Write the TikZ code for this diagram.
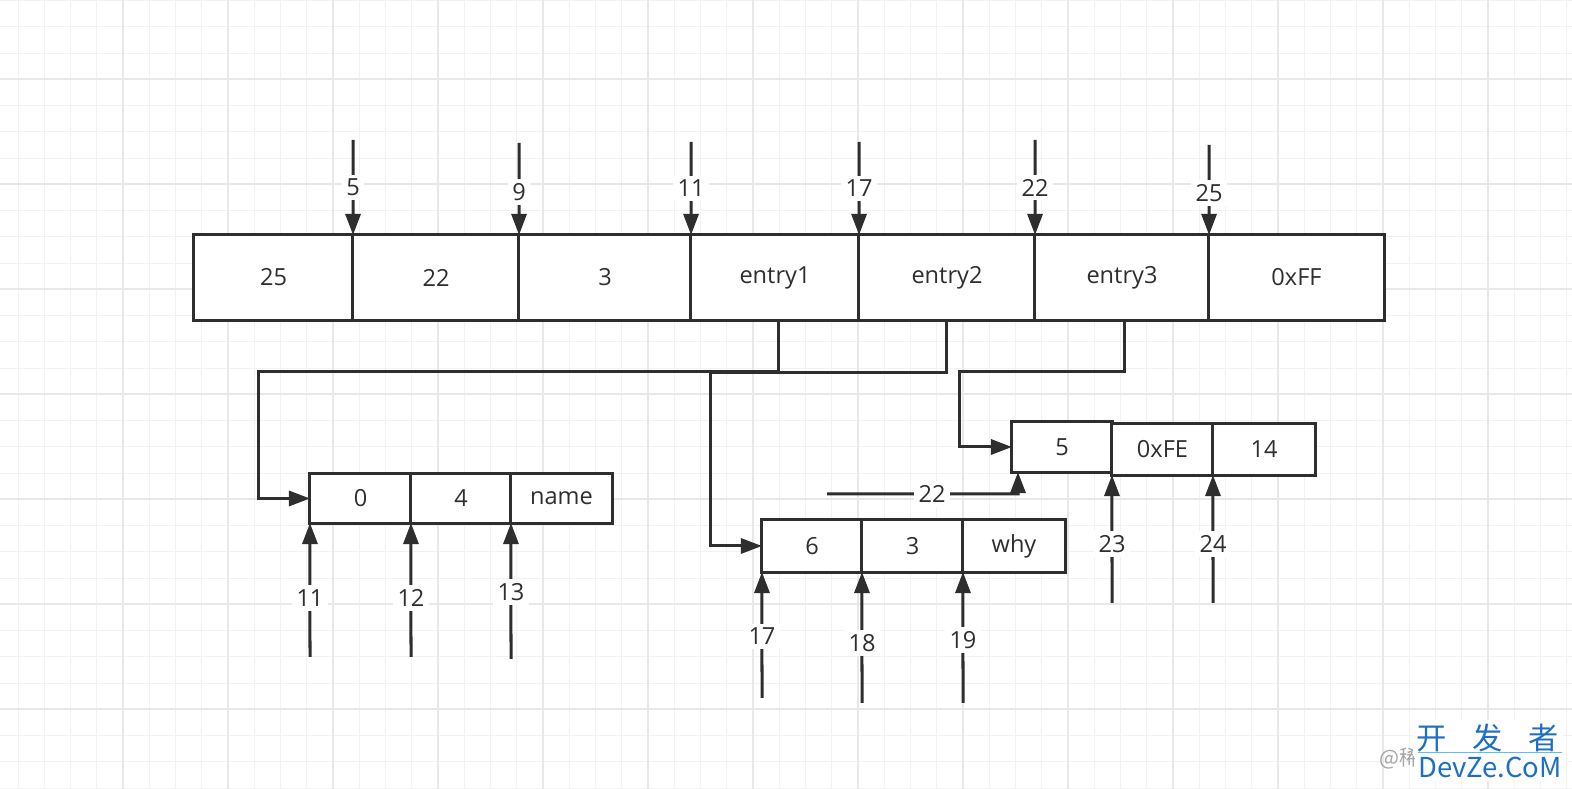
\documentclass[tikz,border=0pt]{standalone}
\usepackage{fontspec}
\setmainfont{Open Sans}
\newfontfamily\cjkfont{Noto Sans CJK SC}
\usetikzlibrary{arrows.meta,calc}
\definecolor{ink}{HTML}{2E2E2E}
\definecolor{gridminor}{HTML}{F2F2F2}
\definecolor{gridmajor}{HTML}{E8E8E8}
\definecolor{wmblue}{HTML}{1E6FC2}
\definecolor{wmline}{HTML}{5BC0EB}
\begin{document}
\begin{tikzpicture}[x=0.01cm,y=-0.01cm,
  cell/.style={draw=ink, fill=white, line width=0.03cm, inner sep=0pt, outer sep=0pt,
    font=\fontsize{6.7}{8}\selectfont, text=ink},
  arr/.style={draw=ink, line width=0.03cm, -{Triangle[length=0.21cm,width=0.15cm]}},
  lbl/.style={fill=white, inner sep=1.2pt, font=\fontsize{6.7}{8}\selectfont, text=ink},
  minorline/.style={draw=gridminor, line width=0.01cm},
  majorline/.style={draw=gridmajor, line width=0.012cm},
]
\useasboundingbox[fill=white] (0,0) rectangle (1572,789);
% background grid
\foreach \i in {0,...,59} {\draw[minorline] ({18+26.25*\i},0) -- ({18+26.25*\i},789);}
\foreach \i in {0,...,30} {\draw[minorline] (0,{0.75+26.25*\i}) -- (1572,{0.75+26.25*\i});}
\foreach \i in {0,...,14} {\draw[majorline] ({123+105*\i},0) -- ({123+105*\i},789);}
\foreach \i in {0,...,7} {\draw[majorline] (0,{79+105*\i}) -- (1572,{79+105*\i});}

% main array
\node[cell, minimum width=1.59cm, minimum height=0.85cm] (a1) at (273.5,277.5) {25};
\node[cell, minimum width=1.66cm, minimum height=0.85cm] (a2) at (436,277.5) {22};
\node[cell, minimum width=1.72cm, minimum height=0.85cm] (a3) at (605,277.5) {3};
\node[cell, minimum width=1.68cm, minimum height=0.85cm] (a4) at (775,277.5) {entry1};
\node[cell, minimum width=1.76cm, minimum height=0.85cm] (a5) at (947,277.5) {entry2};
\node[cell, minimum width=1.74cm, minimum height=0.85cm] (a6) at (1122,277.5) {entry3};
\node[cell, minimum width=1.75cm, minimum height=0.85cm] (a7) at (1296.5,277.5) {0xFF};

% entry boxes
\node[cell, minimum width=1.01cm, minimum height=0.49cm] (b1) at (360.5,498.5) {0};
\node[cell, minimum width=1.00cm, minimum height=0.49cm] (b2) at (461,498.5) {4};
\node[cell, minimum width=1.01cm, minimum height=0.49cm] (b3) at (561.5,498.5) {name};

\node[cell, minimum width=1.00cm, minimum height=0.52cm] (c1) at (812,546) {6};
\node[cell, minimum width=1.01cm, minimum height=0.52cm] (c2) at (912.5,546) {3};
\node[cell, minimum width=1.02cm, minimum height=0.52cm] (c3) at (1014,546) {why};

\node[cell, minimum width=1.00cm, minimum height=0.50cm] (d1) at (1062,447) {5};
\node[cell, minimum width=1.01cm, minimum height=0.51cm] (d2) at (1162.5,449.5) {0xFE};
\node[cell, minimum width=1.02cm, minimum height=0.51cm] (d3) at (1264,449.5) {14};

% top offset arrows
\coordinate (t5) at (353,140);
\coordinate (t9) at (519,143);
\coordinate (t11) at (691,142);
\coordinate (t17) at (859,142);
\coordinate (t22) at (1035,140);
\coordinate (t25) at (1209,145);
\draw[arr] (t5) -- node[lbl,pos=0.5]{5} (a1.north east);
\draw[arr] (t9) -- node[lbl,pos=0.53]{9} (a2.north east);
\draw[arr] (t11) -- node[lbl,pos=0.5]{11} (a3.north east);
\draw[arr] (t17) -- node[lbl,pos=0.5]{17} (a4.north east);
\draw[arr] (t22) -- node[lbl,pos=0.5]{22} (a5.north east);
\draw[arr] (t25) -- node[lbl,pos=0.53]{25} (a6.north east);

% pointers from entries
\draw[arr] ([xshift=0.03cm]a4.south) |- (258,372) |- (b1.west);
\draw[arr] ([xshift=-0.01cm]a5.south) |- (710,373) |- (c1.west);
\draw[arr] ([xshift=0.02cm]a6.south) |- (959,372) |- (d1.west);

% bottom offset arrows
\coordinate (u11) at (310,657);
\coordinate (u12) at (411,657);
\coordinate (u13) at (511,659);
\draw[arr] (u11) -- node[lbl,pos=0.44]{11} (b1.south west);
\draw[arr] (u12) -- node[lbl,pos=0.44]{12} (b2.south west);
\draw[arr] (u13) -- node[lbl,pos=0.49]{13} (b3.south west);

\coordinate (u17) at (762,698);
\coordinate (u18) at (862,703);
\coordinate (u19) at (963,703);
\draw[arr] (u17) -- node[lbl,pos=0.49]{17} (c1.south west);
\draw[arr] (u18) -- node[lbl,pos=0.46]{18} (c2.south west);
\draw[arr] (u19) -- node[lbl,pos=0.48]{19} (c3.south west);

\coordinate (u22) at (827,494);
\coordinate (k22) at (1018,494);
\draw[arr] (u22) -- node[lbl,pos=0.55]{22} (k22) -- ([xshift=0.06cm]d1.south west);

\coordinate (u23) at (1112,603);
\coordinate (u24) at (1213,603);
\draw[arr] (u23) -- node[lbl,pos=0.46]{23} (d2.south west);
\draw[arr] (u24) -- node[lbl,pos=0.46]{24} (d3.south west);

% watermark
\node[text=gray!70, font=\cjkfont\fontsize{6}{7}\selectfont, inner sep=0pt] (wmat) at (1400,758) {@稀};
\node[fill=white, inner sep=1pt, text=wmblue, font=\cjkfont\fontsize{8.6}{10}\selectfont] (wm1) at (1488,738) {开\hspace{0.85em}发\hspace{0.85em}者};
\node[fill=white, inner sep=1pt, text=wmblue, font=\cjkfont\fontsize{7.8}{9}\selectfont] (wm2) at (1490,767) {DevZe.CoM};
\coordinate (wl1) at (1418,753);
\coordinate (wl2) at (1562,753);
\draw[wmline, line width=0.01cm] (wl1) -- (wl2);
\end{tikzpicture}
\end{document}
